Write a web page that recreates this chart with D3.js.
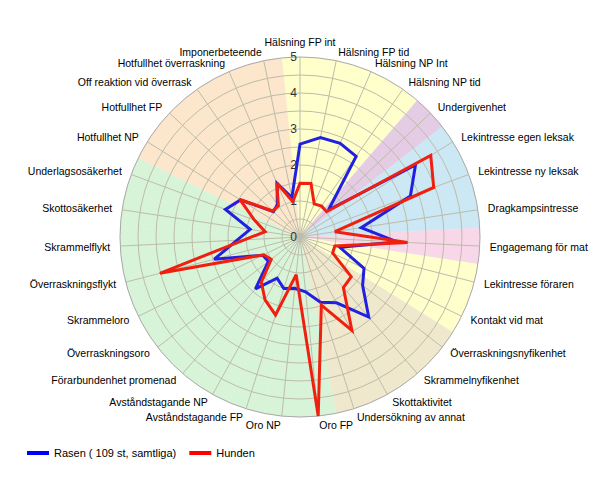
<!DOCTYPE html>
<html lang="sv">
<head>
<meta charset="utf-8">
<script src="https://d3js.org/d3.v7.min.js"></script>
<style>
  body { margin: 0; background: #fff; }
  text { font-family: "Liberation Sans", Arial, sans-serif; }
</style>
</head>
<body>
<script>
// ---- data ----
var axes = ["Hälsning FP int", "Hälsning FP tid", "Hälsning NP Int", "Hälsning NP tid",
            "Undergivenhet", "Lekintresse egen leksak", "Lekintresse ny leksak",
            "Dragkampsintresse", "Engagemang för mat", "Lekintresse föraren",
            "Kontakt vid mat", "Överraskningsnyfikenhet", "Skrammelnyfikenhet",
            "Skottaktivitet", "Undersökning av annat", "Oro FP", "Oro NP",
            "Avståndstagande FP", "Avståndstagande NP", "Förarbundenhet promenad",
            "Överraskningsoro", "Skrammeloro", "Överraskningsflykt", "Skrammelflykt",
            "Skottosäkerhet", "Underlagsosäkerhet", "Hotfullhet NP", "Hotfullhet FP",
            "Off reaktion vid överrask", "Hotfullhet överraskning", "Imponerbeteende"];

var rasen  = [2.58, 2.82, 2.83, 2.73, 1.09, 3.78, 3.27, 1.72, 2.70, 1.14, 1.98,
              2.20, 2.93, 2.09, 1.90, 1.53, 1.43, 1.50, 1.31, 1.90, 1.11, 1.15,
              2.46, 1.75, 1.40, 2.21, 1.95, 1.02, 1.10, 1.62, 1.12];

var hunden = [1.49, 1.52, 1.00, 1.05, 1.02, 4.28, 3.96, 0.98, 2.99, 1.00, 1.01,
              1.80, 1.85, 2.97, 1.98, 5.00, 1.05, 2.27, 2.00, 1.65, 1.01, 1.12,
              4.02, 1.55, 0.98, 1.35, 1.97, 1.05, 1.05, 1.63, 1.00];

// which background band each axis belongs to
var groups = ["halsning", "halsning", "halsning", "halsning", "undergivenhet",
              "lek", "lek", "lek", "mat", "kontakt", "kontakt",
              "nyfikenhet", "nyfikenhet", "nyfikenhet", "nyfikenhet",
              "radsla", "radsla", "radsla", "radsla", "radsla", "radsla",
              "radsla", "radsla", "radsla", "radsla", "radsla",
              "aggression", "aggression", "aggression", "aggression", "aggression"];

var radialTicks = [0, 1, 2, 3, 4, 5];
var seriesNames = ["Rasen ( 109 st, samtliga)", "Hunden"];

// ---- styles ----
var groupColour = {
    halsning: "#ffffcc", undergivenhet: "#e4cce4", lek: "#cce8f4", mat: "#f8d8e8",
    kontakt: "#ffffcc", nyfikenhet: "#f0e8cc", radsla: "#d8f4d8", aggression: "#fce6cc"
};
var seriesColour = ["#2020e0", "#f02010"];

var width = 600, height = 480,
    cx = 300, cy = 237, outer = 180;

var svg = d3.select("body").append("svg")
            .attr("width", width)
            .attr("height", height);

svg.append("rect")
   .attr("width", width).attr("height", height)
   .attr("fill", "#ffffff");

var r = d3.scaleLinear().domain([0, 5]).range([0, outer]);
var step = 2 * Math.PI / axes.length;
var angle = function (i) { return i * step; };

var g = svg.append("g").attr("transform", "translate(" + cx + "," + cy + ")");

// background bands, one wedge per axis
var wedge = d3.arc().innerRadius(0).outerRadius(r(5));
g.append("g").selectAll("path")
  .data(axes)
  .enter().append("path")
  .attr("d", function (d, i) {
      return wedge({ startAngle: angle(i) - step / 2, endAngle: angle(i) + step / 2 });
  })
  .attr("fill", function (d, i) { return groupColour[groups[i]]; })
  .attr("stroke", function (d, i) { return groupColour[groups[i]]; })
  .attr("stroke-width", 0.5);

// rings every half unit
g.append("g").selectAll("circle")
  .data(d3.range(0.5, 5.01, 0.5))
  .enter().append("circle")
  .attr("r", function (d) { return r(d); })
  .attr("fill", "none")
  .attr("stroke", function (d) { return d === 5 ? "#a8a8a8" : "#bdbcaa"; })
  .attr("stroke-width", 1);

// spokes
g.append("g").selectAll("line")
  .data(axes)
  .enter().append("line")
  .attr("x1", 0).attr("y1", 0)
  .attr("x2", function (d, i) { return r(5) * Math.sin(angle(i)); })
  .attr("y2", function (d, i) { return -r(5) * Math.cos(angle(i)); })
  .attr("stroke", "#bdbcaa")
  .attr("stroke-width", 1);

// radial tick labels along the top spoke
g.append("g").selectAll("text")
  .data(radialTicks)
  .enter().append("text")
  .attr("x", -3)
  .attr("y", function (d) { return -r(d); })
  .attr("text-anchor", "end")
  .attr("dominant-baseline", "central")
  .attr("font-size", "12px")
  .attr("fill", "#333")
  .text(function (d) { return d; });

// series
var radar = d3.lineRadial()
              .angle(function (d, i) { return angle(i); })
              .radius(function (d) { return r(d); })
              .curve(d3.curveLinearClosed);

[rasen, hunden].forEach(function (vals, k) {
    g.append("path")
     .datum(vals)
     .attr("d", radar)
     .attr("fill", "none")
     .attr("stroke", seriesColour[k])
     .attr("stroke-width", 3)
     .attr("stroke-linejoin", "miter")
     .attr("stroke-miterlimit", 3);
});

// axis labels
g.append("g").selectAll("text")
  .data(axes)
  .enter().append("text")
  .attr("x", function (d, i) { return (r(5) + 10) * Math.sin(angle(i)); })
  .attr("y", function (d, i) {
      var c = Math.cos(angle(i));
      var rr = Math.abs(Math.sin(angle(i))) < 0.05 && c > 0 ? r(5) + 15 : r(5) + 9;
      return -rr * c;
  })
  .attr("text-anchor", function (d, i) {
      var s = Math.sin(angle(i));
      return s > 0.05 ? "start" : (s < -0.05 ? "end" : "middle");
  })
  .attr("dominant-baseline", "central")
  .attr("font-size", "10.5px")
  .attr("fill", "#000")
  .text(function (d) { return d; });

// legend
var legend = svg.append("g").attr("transform", "translate(27,453)");
var lx = 0;
seriesNames.forEach(function (name, k) {
    var item = legend.append("g").attr("transform", "translate(" + lx + ",0)");
    item.append("line")
        .attr("x1", 0).attr("x2", 22)
        .attr("y1", 0).attr("y2", 0)
        .attr("stroke", k === 0 ? "#0000ff" : "#ff0000")
        .attr("stroke-width", 4);
    var t = item.append("text")
        .attr("x", 27).attr("y", 0)
        .attr("dominant-baseline", "central")
        .attr("font-size", "11px")
        .attr("fill", "#000")
        .text(name);
    lx += 27 + t.node().getComputedTextLength() + 13;
});
</script>
</body>
</html>
